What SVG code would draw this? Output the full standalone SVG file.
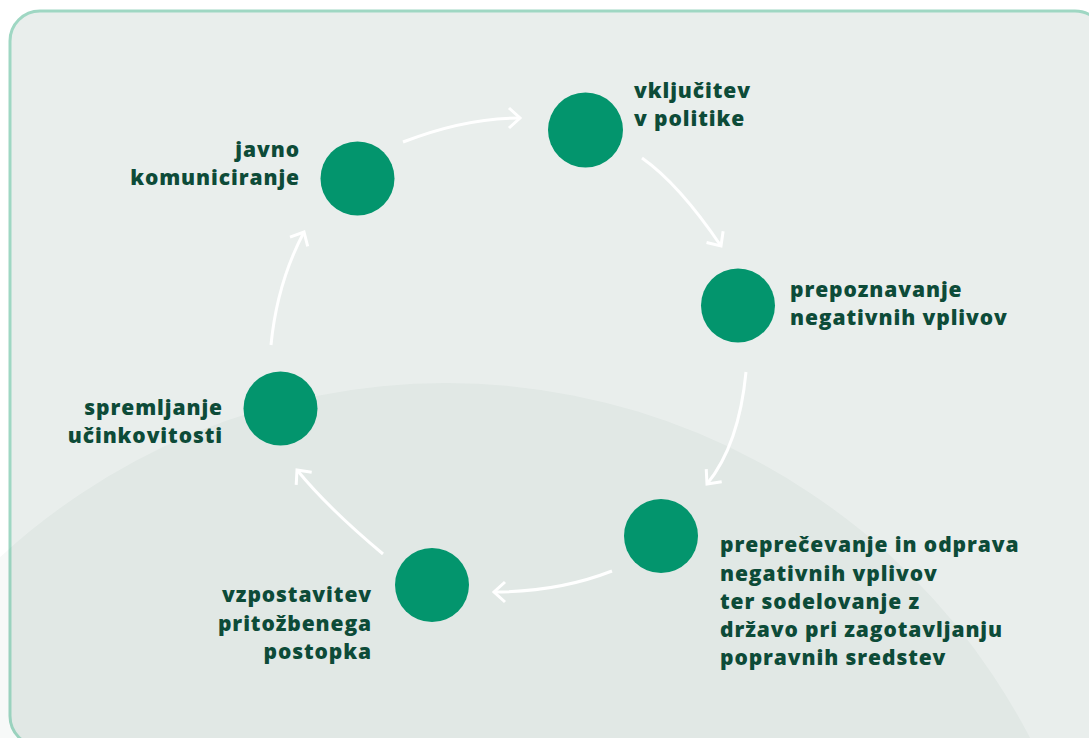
<svg xmlns="http://www.w3.org/2000/svg" width="1089" height="738" viewBox="0 0 1089 738">
  <defs>
    <style>
      .dot { fill: #03956d; }
      .lbl { font-family: "Open Sans", "Liberation Sans", sans-serif; font-weight: 800; font-size: 21px; fill: #0d4b38; letter-spacing: 0.9px; }
      .end { text-anchor: end; }
      .conn { fill: none; stroke: #ffffff; stroke-width: 3; marker-end: url(#chev); }
    </style>
    <marker id="chev" markerUnits="userSpaceOnUse" markerWidth="30" markerHeight="30" viewBox="-15 -15 30 30" refX="0" refY="0" orient="auto" overflow="visible">
      <path d="M-11,-10 L0,0 L-11,10" fill="none" stroke="#ffffff" stroke-width="3" stroke-linejoin="miter"/>
    </marker>
  </defs>

  <rect x="0" y="0" width="1089" height="738" fill="#ffffff"/>
  <rect id="card" x="10" y="11" width="1095" height="735" rx="30" ry="30" fill="#e9eeec" stroke="#9fd7c3" stroke-width="3"/>
  <circle id="backdrop" cx="446" cy="1041" r="658" fill="#285a46" fill-opacity="0.035"/>

  <g id="connectors">
    <path class="conn" d="M403,142 Q465,118 520,118"/>
    <path class="conn" d="M642,158 Q679,184 721,246"/>
    <path class="conn" d="M746,372 Q739,445 707,484"/>
    <path class="conn" d="M612,571 Q558,592 494,592"/>
    <path class="conn" d="M383,554 Q328,508 297,470"/>
    <path class="conn" d="M271,345 Q277,283 304,232"/>
  </g>

  <g id="node-vkljucitev">
    <circle class="dot" cx="585.5" cy="130" r="37.5"/>
    <text class="lbl" x="634" y="98">vključitev</text>
    <text class="lbl" x="634" y="126">v politike</text>
  </g>

  <g id="node-prepoznavanje">
    <circle class="dot" cx="738" cy="305.5" r="37"/>
    <text class="lbl" x="790" y="297">prepoznavanje</text>
    <text class="lbl" x="790" y="325">negativnih vplivov</text>
  </g>

  <g id="node-preprecevanje">
    <circle class="dot" cx="661" cy="536" r="37"/>
    <text class="lbl" x="720" y="552">preprečevanje in odprava</text>
    <text class="lbl" x="720" y="580.5">negativnih vplivov</text>
    <text class="lbl" x="720" y="609">ter sodelovanje z</text>
    <text class="lbl" x="720" y="637">državo pri zagotavljanju</text>
    <text class="lbl" x="720" y="665">popravnih sredstev</text>
  </g>

  <g id="node-vzpostavitev">
    <circle class="dot" cx="432" cy="585" r="37"/>
    <text class="lbl end" x="372" y="602">vzpostavitev</text>
    <text class="lbl end" x="372" y="631">pritožbenega</text>
    <text class="lbl end" x="372" y="659">postopka</text>
  </g>

  <g id="node-spremljanje">
    <circle class="dot" cx="280.5" cy="408.5" r="37"/>
    <text class="lbl end" x="223" y="415">spremljanje</text>
    <text class="lbl end" x="223" y="443">učinkovitosti</text>
  </g>

  <g id="node-javno">
    <circle class="dot" cx="357.5" cy="178.5" r="37"/>
    <text class="lbl end" x="300" y="157">javno</text>
    <text class="lbl end" x="300" y="185">komuniciranje</text>
  </g>
</svg>
